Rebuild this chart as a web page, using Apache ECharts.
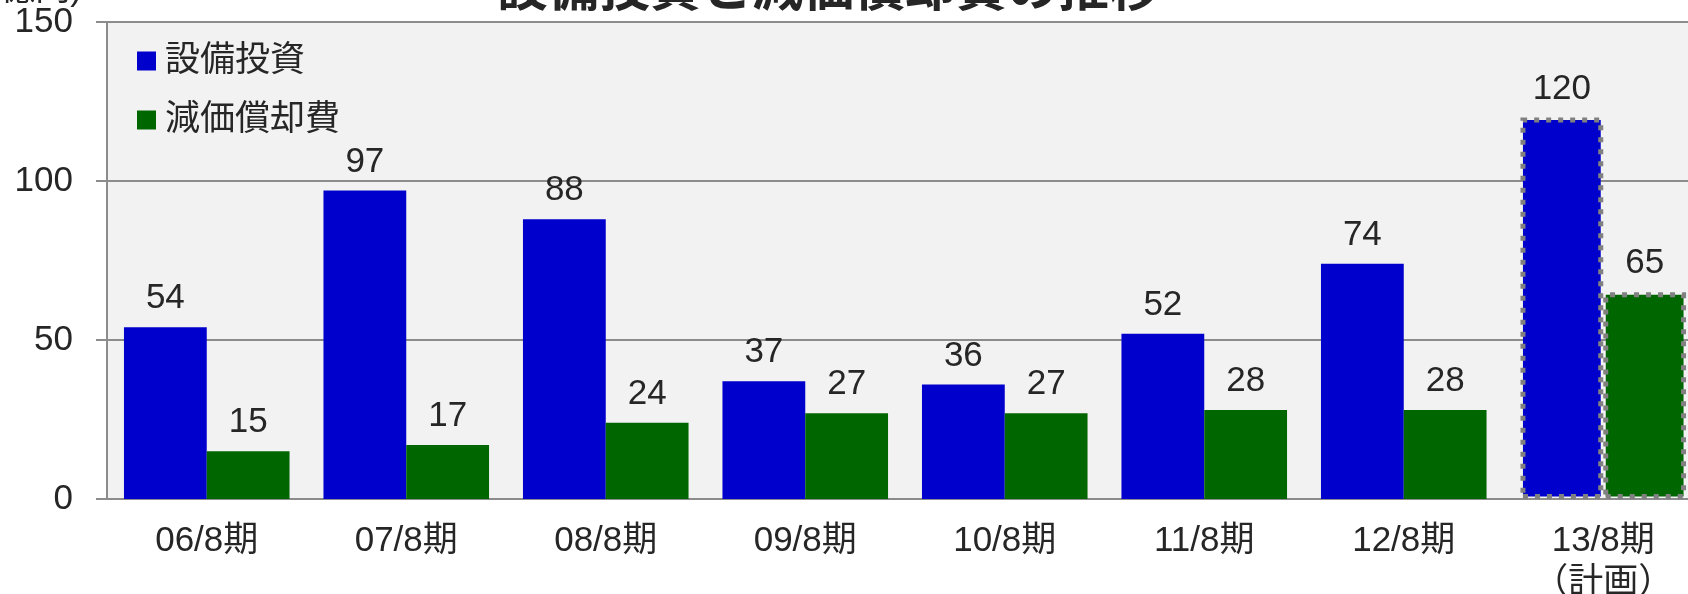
<!DOCTYPE html>
<html>
<head>
<meta charset="utf-8">
<script src="https://cdn.jsdelivr.net/npm/echarts@6/dist/echarts.min.js"></script>
<style>
  html, body { margin: 0; padding: 0; background: #fff; overflow: hidden; }
  #chart { width: 1688px; height: 594px; }
</style>
</head>
<body>
<div id="chart"></div>
<script>
// 期
const periods = ["06/8期", "07/8期", "08/8期", "09/8期", "10/8期", "11/8期", "12/8期", "13/8期\n（計画）"]
// 設備投資（億円）
const capex = [54, 97, 88, 37, 36, 52, 74, 120]
// 減価償却費（億円）
const depreciation = [15, 17, 24, 27, 27, 28, 28, 65]
const yTicks = [0, 50, 100, 150]
const planIndex = 7

const FONT = "'Liberation Sans', 'Noto Sans CJK JP', sans-serif"
const TEXT = "#262626"
const LINE = "#8c8c8c"

// 計画の棒は点線枠
const planStyle = {
  borderColor: "#808080",
  borderWidth: 5,
  borderType: [5, 7],
}
const withPlan = (arr) =>
  arr.map((v, i) => (i === planIndex ? { value: v, itemStyle: planStyle } : v))

const labelStyle = {
  show: true,
  position: "top",
  distance: 11,
  fontSize: 35,
  fontFamily: FONT,
  color: TEXT,
}

const chart = echarts.init(document.getElementById("chart"))
chart.setOption({
  animation: false,
  textStyle: { fontFamily: FONT },
  title: {
    text: "設備投資と減価償却費の推移",
    left: 497,
    top: -34,
    padding: 0,
    textStyle: { fontSize: 51, fontWeight: "bold", color: TEXT, fontFamily: FONT },
  },
  graphic: [
    {
      type: "text",
      style: {
        x: 82,
        y: 8,
        text: "(億円)",
        align: "right",
        verticalAlign: "bottom",
        fontSize: 35,
        fill: TEXT,
        fontFamily: FONT,
      },
    },
  ],
  legend: {
    orient: "vertical",
    left: 137,
    top: 41,
    padding: 0,
    itemGap: 19,
    itemWidth: 19,
    itemHeight: 19,
    icon: "rect",
    textStyle: { fontSize: 35, lineHeight: 40, color: TEXT, fontFamily: FONT, padding: [0, 0, 0, 4] },
    data: ["設備投資", "減価償却費"],
  },
  grid: {
    left: 107,
    right: -15,
    top: 22,
    bottom: 95,
    outerBoundsMode: "none",
    show: true,
    backgroundColor: "#f2f2f2",
    borderWidth: 0,
  },
  xAxis: {
    type: "category",
    data: periods,
    axisLine: { lineStyle: { color: LINE, width: 2 } },
    axisTick: { show: false },
    axisLabel: {
      interval: 0,
      margin: 21,
      fontSize: 35,
      lineHeight: 42,
      color: TEXT,
      fontFamily: FONT,
    },
  },
  yAxis: {
    type: "value",
    min: yTicks[0],
    max: yTicks[yTicks.length - 1],
    interval: 50,
    axisLine: { show: true, lineStyle: { color: LINE, width: 2 } },
    axisTick: { show: true, length: 11, lineStyle: { color: LINE, width: 2 } },
    axisLabel: { margin: 34, fontSize: 35, color: TEXT, fontFamily: FONT },
    splitLine: { lineStyle: { color: LINE, width: 2 } },
  },
  series: [
    {
      name: "設備投資",
      type: "bar",
      data: withPlan(capex),
      itemStyle: { color: "#0000cc" },
      barGap: "0%",
      barCategoryGap: "17%",
      label: labelStyle,
    },
    {
      name: "減価償却費",
      type: "bar",
      data: withPlan(depreciation),
      itemStyle: { color: "#006600" },
      label: labelStyle,
    },
  ],
})
</script>
</body>
</html>
